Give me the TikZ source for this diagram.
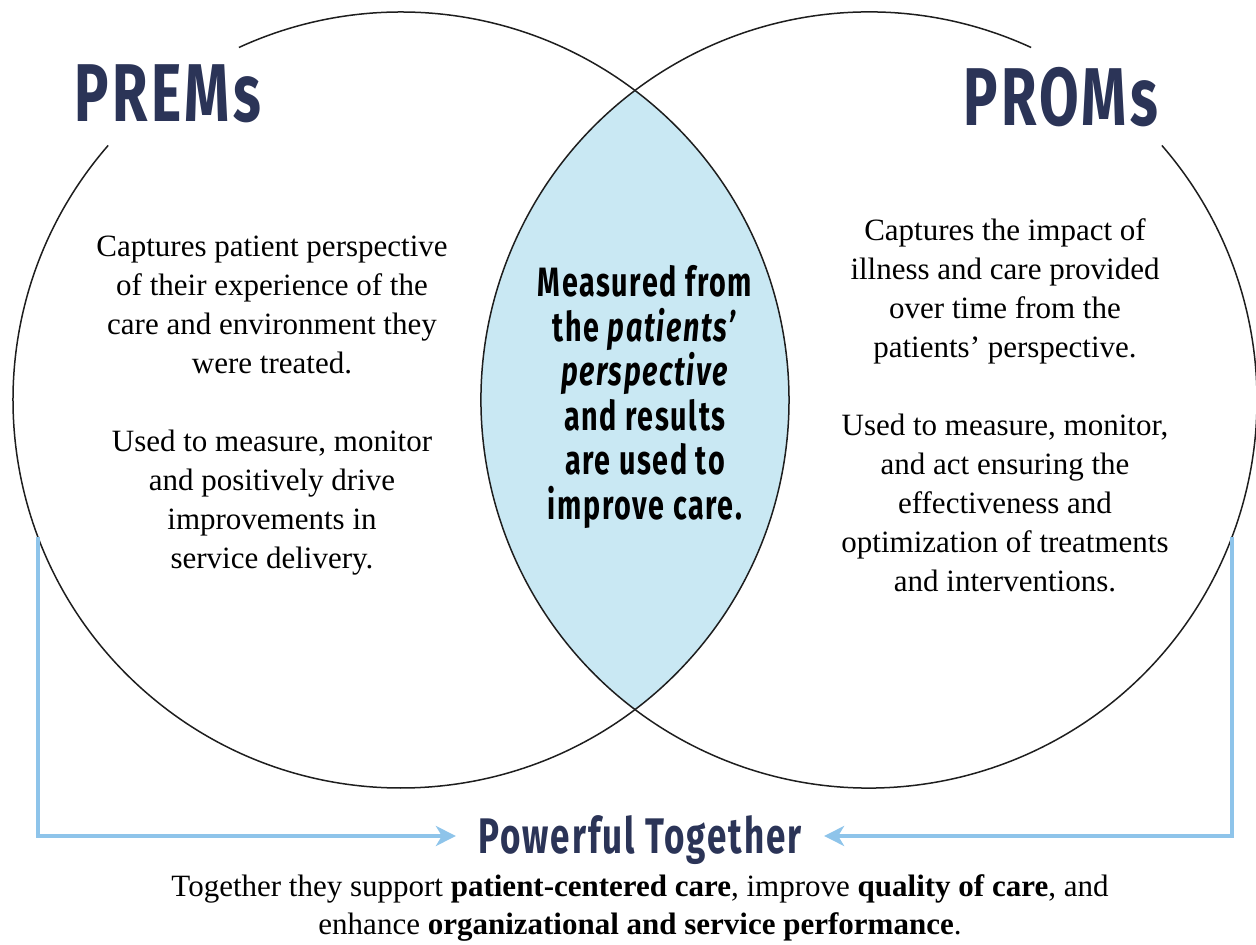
\documentclass[tikz,border=0pt]{standalone}
\usepackage{fontspec}
\setmainfont{Liberation Serif}
\newfontfamily\headfont[FakeStretch=0.7,LetterSpace=4]{Fira Sans}
\usetikzlibrary{arrows.meta,calc}
\definecolor{navy}{HTML}{2B3457}
\definecolor{lens}{HTML}{C9E8F3}
\definecolor{linkc}{HTML}{8EC4EA}
\definecolor{ringc}{HTML}{1E1E1E}
\tikzset{
  ring/.style={draw=ringc,line width=0.75pt},
  big/.style={font=\headfont\bfseries\fontsize{41}{41}\selectfont,text=navy,inner sep=0pt,anchor=base},
  body/.style={font=\fontsize{15.5}{19.5}\selectfont,align=center,inner sep=0pt},
  mid/.style={font=\headfont\bfseries\fontsize{20.5}{22.3}\selectfont,align=center,inner sep=0pt},
  ptitle/.style={font=\headfont\bfseries\fontsize{25}{25}\selectfont,text=navy,
    text height=17.5pt,text depth=0pt,inner xsep=11pt,inner ysep=0pt},
  link/.style={draw=linkc,line width=2pt,
    -{Stealth[length=10pt,width=10pt,inset=3pt]}},
}
\begin{document}
\begin{tikzpicture}[x=0.5pt,y=0.5pt]
  \useasboundingbox (0,0) rectangle (1256,945);
  \coordinate (Lc) at (401,545);
  \coordinate (Rc) at (869,545);
  % shared region
  \begin{scope}
    \clip (Lc) circle (388);
    \fill[lens] (Rc) circle (388);
  \end{scope}
  % both rings, open where the titles sit
  \draw[ring] (Lc) ++(139:388) arc[start angle=139,end angle=474.7,radius=388];
  \draw[ring] (Rc) ++(65.3:388) arc[start angle=65.3,end angle=401,radius=388];
  \node[big] (prem) at (168,823) {PREMs};
  \node[big] (prom) at (1061,819) {PROMs};
  \node[body] (ltxt) at (272,539) {Captures patient perspective\\ of their experience of the\\
    care and environment they\\ were treated.\\[19.5pt]
    Used to measure, monitor\\ and positively drive\\ improvements in\\ service delivery.};
  \node[body] (rtxt) at (1005,540) {Captures the impact of\\ illness and care provided\\
    over time from the\\ patients’ perspective.\\[19.5pt]
    Used to measure, monitor,\\ and act ensuring the\\ effectiveness and\\
    optimization of treatments\\ and interventions.};
  \node[mid] (ctxt) at (645,548) {Measured from\\ the \textit{patients’}\\ \textit{perspective}\\
    and results\\ are used to\\ improve care.};
  \node[ptitle] (pt) at (640,109) {Powerful Together};
  \node[body,font=\fontsize{15.5}{19}\selectfont] (note) at (640,37)
    {Together they support \textbf{patient-centered care}, improve \textbf{quality of care}, and\\
     enhance \textbf{organizational and service performance}.};
  \coordinate (lfoot) at ($(Lc)+(200.7:388)$);
  \coordinate (rfoot) at ($(Rc)+(339.3:388)$);
  \draw[link] (lfoot) |- (pt.west);
  \draw[link] (rfoot) |- (pt.east);
\end{tikzpicture}
\end{document}
